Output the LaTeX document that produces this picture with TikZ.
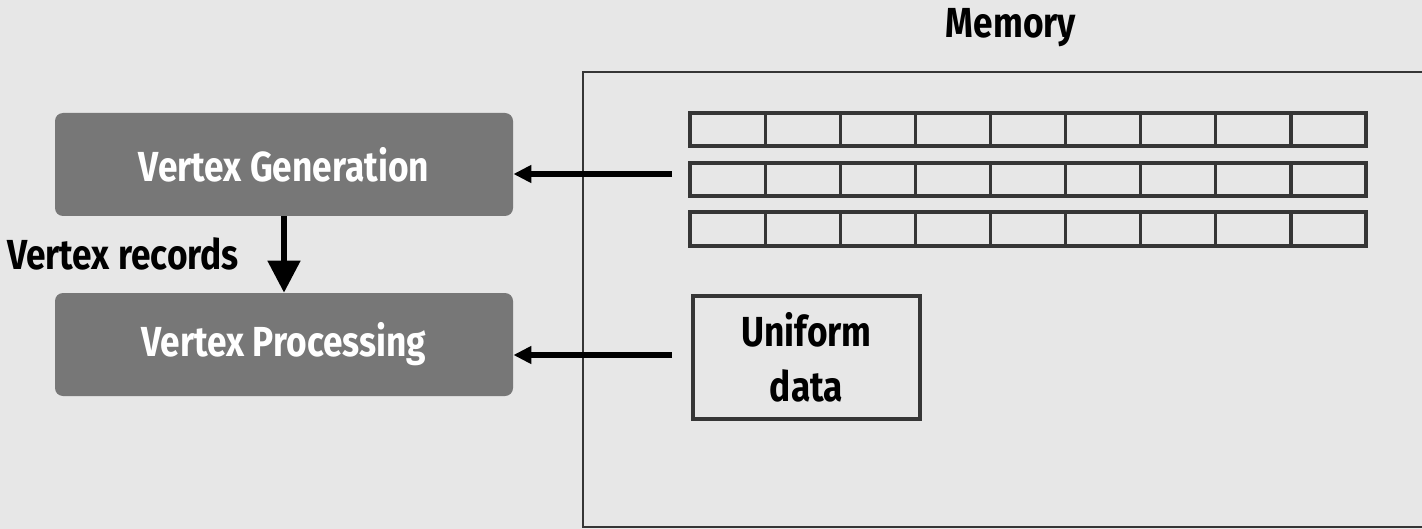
\documentclass[tikz,border=0pt]{standalone}
\usepackage{fontspec}
\setmainfont{Fira Sans}[FakeStretch=0.84]
\usetikzlibrary{arrows.meta}
\definecolor{paper}{HTML}{E7E7E7}
\definecolor{stage}{HTML}{777777}
\definecolor{ink}{HTML}{363636}
\begin{document}
\begin{tikzpicture}[x=0.5pt,y=-0.5pt,
  lbl/.style={font=\bfseries\fontsize{21}{27.5}\selectfont},
  stagebox/.style={fill=stage, rounded corners=4pt, text=white, lbl,
    minimum width=229pt, minimum height=51.5pt, inner sep=0pt},
  cell/.style={draw=ink, line width=1.6pt},
  membox/.style={draw=ink, line width=1.6pt, lbl, align=center,
    minimum width=113.5pt, minimum height=61.5pt, inner sep=0pt},
  flow/.style={line width=2.8pt, -{Triangle[length=9pt,width=8.5pt]}},
  down/.style={line width=2.6pt, -{Triangle[length=16pt,width=16pt]}}]
  % canvas
  \fill[paper] (0,0) rectangle (1422,529);
  \useasboundingbox (0,0) rectangle (1422,529);

  % memory region, open on the right
  \draw[ink, line width=1.4pt] (1422,72) -- (583,72) -- (583,527) -- (1422,527);
  \node[lbl] (memlabel) at (1011,28) {Memory};

  % three vertex buffers of nine slots each
  \foreach \top/\bot in {113/146,163/196,212/246}{
    \foreach \i in {0,...,8}{
      \draw[cell] ({690+\i*75.11},\top) rectangle ({690+(\i+1)*75.11},\bot);
    }
  }
  \node[membox] (uniform) at (806.5,357.5) {Uniform\\data};

  % pipeline stages
  \node[stagebox] (gen)  at (284,164.5) {Vertex Generation};
  \node[stagebox] (proc) at (284,344.5) {Vertex Processing};

  % connectors
  \draw[down] (gen.south) -- (proc.north);
  \node[lbl, anchor=east] (rec) at (246,254) {Vertex records};

  \coordinate (bufout) at (672,174);
  \coordinate (uniout) at (672,355);
  \draw[flow] (bufout) -- (bufout -| gen.east);
  \draw[flow] (uniout) -- (uniout -| proc.east);
\end{tikzpicture}
\end{document}
